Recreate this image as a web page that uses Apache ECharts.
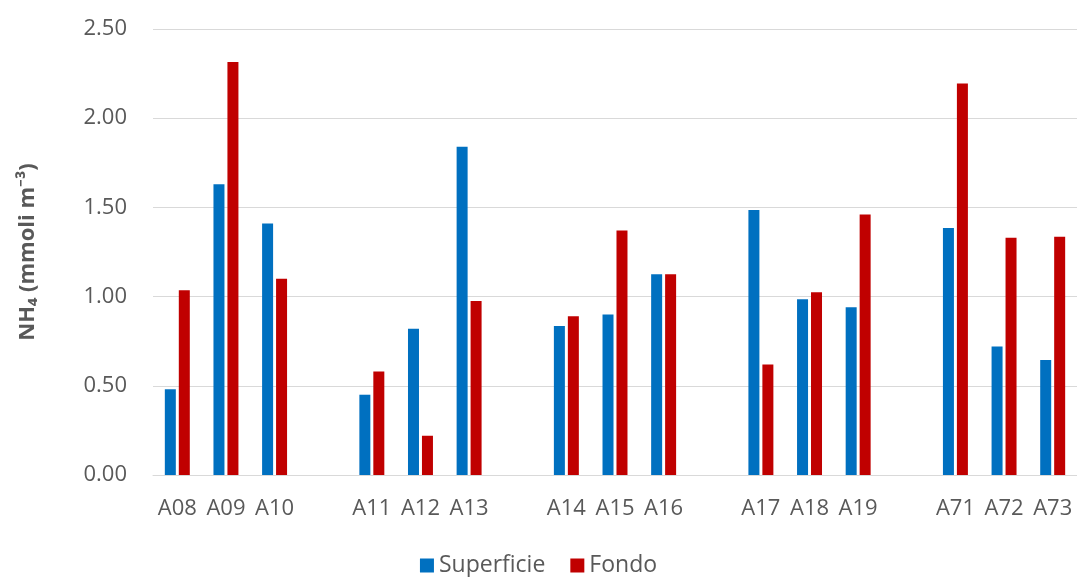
<!DOCTYPE html>
<html>
<head>
<meta charset="utf-8">
<script src="https://cdn.jsdelivr.net/npm/echarts@6/dist/echarts.min.js"></script>
<style>
  html, body { margin: 0; padding: 0; background: #fff; }
  #chart { width: 1077px; height: 577px; }
</style>
</head>
<body>
<div id="chart"></div>
<script>
// Stations, grouped in threes; an empty slot separates each group
const categories = ['A08', 'A09', 'A10', '', 'A11', 'A12', 'A13', '', 'A14', 'A15', 'A16', '', 'A17', 'A18', 'A19', '', 'A71', 'A72', 'A73'];
// NH4 concentration (mmoli m-3) at the surface
const superficie = [0.48, 1.63, 1.41, null, 0.45, 0.82, 1.84, null, 0.835, 0.90, 1.125, null, 1.485, 0.985, 0.94, null, 1.385, 0.72, 0.645];
// NH4 concentration (mmoli m-3) at the bottom
const fondo = [1.035, 2.315, 1.10, null, 0.58, 0.22, 0.975, null, 0.89, 1.37, 1.125, null, 0.62, 1.025, 1.46, null, 2.195, 1.33, 1.335];
const yTicks = { min: 0, max: 2.5, interval: 0.5 };

const FONT = '"Open Sans", "Noto Sans", sans-serif';
const TEXT = '#595959';
const SIZE = 22;

const chart = echarts.init(document.getElementById('chart'), null, { renderer: 'canvas' });
chart.setOption({
  animation: false,
  backgroundColor: '#ffffff',
  textStyle: { fontFamily: FONT },
  grid: { left: 153, right: -3, top: 29, bottom: 102, containLabel: false },
  legend: {
    bottom: -5,
    left: 'center',
    itemWidth: 14,
    itemHeight: 14,
    itemGap: 25,
    icon: 'rect',
    textStyle: { fontFamily: FONT, fontSize: 23, color: TEXT },
    data: ['Superficie', 'Fondo']
  },
  xAxis: {
    type: 'category',
    data: categories,
    axisLine: { show: true, lineStyle: { color: '#d9d9d9', width: 1 } },
    axisTick: { show: false },
    axisLabel: { interval: 0, color: TEXT, fontSize: SIZE, fontFamily: FONT, margin: 23 }
  },
  yAxis: {
    type: 'value',
    min: yTicks.min,
    max: yTicks.max,
    interval: yTicks.interval,
    name: 'NH₄ (mmoli m⁻³)',
    nameLocation: 'middle',
    nameGap: 114,
    nameTextStyle: { color: TEXT, fontSize: SIZE, fontWeight: 'bold', fontFamily: FONT },
    axisLine: { show: false },
    axisTick: { show: false },
    splitLine: { lineStyle: { color: '#d9d9d9', width: 1 } },
    axisLabel: {
      color: TEXT, fontSize: SIZE, fontFamily: FONT, margin: 26,
      formatter: v => v.toFixed(2)
    }
  },
  series: [
    {
      name: 'Superficie', type: 'bar', data: superficie,
      barWidth: 11, barGap: '27%',
      itemStyle: { color: '#0070C0' }
    },
    {
      name: 'Fondo', type: 'bar', data: fondo,
      barWidth: 11, barGap: '27%',
      itemStyle: { color: '#C00000' }
    }
  ]
});
</script>
</body>
</html>
